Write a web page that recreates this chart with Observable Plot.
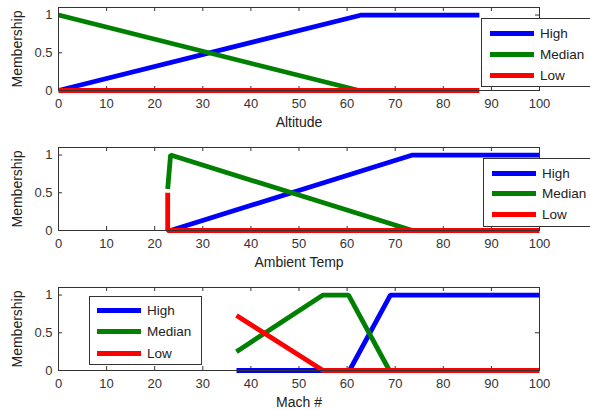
<!DOCTYPE html>
<html>
<head>
<meta charset="utf-8">
<script src="https://cdn.jsdelivr.net/npm/d3@7"></script>
<script src="https://cdn.jsdelivr.net/npm/@observablehq/plot@0.6"></script>
<style>
  html, body { margin: 0; padding: 0; background: #fff; }
  #wrap { position: relative; width: 590px; height: 410px; overflow: hidden; font-family: "Liberation Sans", Arial, sans-serif; }
  .panel { position: absolute; left: 0; }
  .legend { position: absolute; background: #fff; border: 1px solid #333; box-sizing: border-box; }
  .legend .row { position: absolute; height: 14px; display: flex; align-items: center; }
  .legend .sw { width: 44px; height: 5px; }
  .legend .lab { margin-left: 6px; font-size: 13.5px; color: #222; white-space: nowrap; }
</style>
</head>
<body>
<div id="wrap"></div>
<script>
// ---- data ----
const xTicks = [0, 10, 20, 30, 40, 50, 60, 70, 80, 90, 100];
const yTicks = [0, 0.5, 1];
const seriesNames = ["High", "Median", "Low"];
const seriesColors = ["#0000ff", "#008000", "#ff0000"];
const panelLabels = ["Altitude", "Ambient Temp", "Mach #"];
const yLabel = "Membership";

// Altitude
const altHighX = [0, 63, 87.5];        const altHighY = [0, 1, 1];
const altMedianX = [0, 62.5];          const altMedianY = [1, 0];
const altLowX = [0, 87.5];             const altLowY = [0, 0];
// Ambient Temp
const tempHighX = [23.3, 73.6, 100];   const tempHighY = [0, 1, 1];
const tempMedianX = [22.7, 23.3, 73.6];const tempMedianY = [0.55, 1, 0];
const tempLowX = [22.7, 22.7, 100];    const tempLowY = [0.5, 0, 0];
// Mach #
const machHighX = [37, 60.5, 69, 100]; const machHighY = [0, 0, 1, 1];
const machMedianX = [37, 55, 60.3, 68.8]; const machMedianY = [0.25, 1, 1, 0];
const machLowX = [37, 55, 100];        const machLowY = [0.73, 0, 0];

function rows(name, xs, ys) { return xs.map((x, i) => ({series: name, x, y: ys[i]})); }
const panelData = [
  [...rows("High", altHighX, altHighY), ...rows("Median", altMedianX, altMedianY), ...rows("Low", altLowX, altLowY)],
  [...rows("High", tempHighX, tempHighY), ...rows("Median", tempMedianX, tempMedianY), ...rows("Low", tempLowX, tempLowY)],
  [...rows("High", machHighX, machHighY), ...rows("Median", machMedianX, machMedianY), ...rows("Low", machLowX, machLowY)]
];

// ---- layout ----
const W = 590, H = 140, mT = 7, mB = 50, mL = 58, mR = 51;
const innerH = H - mT - mB, innerW = W - mL - mR;
const axisColor = "#333";
const tickLen = 4;
const legendPos = [
  {left: 481, top: 18, width: 130, height: 69, dx: 8, rows: [7, 28, 49]},
  {left: 483, top: 158, width: 130, height: 69, dx: 8, rows: [7, 27, 48]},
  {left: 89, top: 296, width: 113, height: 69, dx: 7, rows: [6, 27, 49]}
];

const wrap = document.getElementById("wrap");
panelData.forEach((data, i) => {
  const chart = Plot.plot({
    width: W, height: H,
    marginLeft: mL, marginRight: mR, marginTop: mT, marginBottom: mB,
    x: {domain: [0, 100]},
    y: {domain: [0, 1.1]},
    color: {domain: seriesNames, range: seriesColors},
    style: {fontFamily: "'Liberation Sans', Arial, sans-serif", fontSize: "13px", color: "#333", background: "transparent", overflow: "visible"},
    marks: [
      Plot.axisX(xTicks, {tickSize: 0, tickPadding: 8, label: null}),
      Plot.axisY(yTicks, {tickSize: 0, tickPadding: 6, label: null, tickFormat: d => String(d)}),
      Plot.tickX(xTicks, {x: d => d, insetTop: innerH - tickLen, stroke: axisColor}),
      Plot.tickX(xTicks, {x: d => d, insetBottom: innerH - tickLen, stroke: axisColor}),
      Plot.tickY(yTicks, {y: d => d, insetRight: innerW - tickLen, stroke: axisColor}),
      Plot.tickY(yTicks, {y: d => d, insetLeft: innerW - tickLen, stroke: axisColor}),
      Plot.line(data, {x: "x", y: "y", z: "series", stroke: "series", strokeWidth: 4.8, strokeLinejoin: "miter", strokeLinecap: "butt"}),
      Plot.frame({stroke: axisColor}),
      Plot.text([panelLabels[i]], {frameAnchor: "bottom", textAnchor: "middle", lineAnchor: "middle", dy: 32, fontSize: 14, fill: "#222"}),
      Plot.text([yLabel], {frameAnchor: "left", textAnchor: "middle", lineAnchor: "middle", rotate: -90, dx: -41, fontSize: 14, fill: "#222"})
    ]
  });
  chart.classList.add("panel");
  chart.style.top = (i * 140) + "px";
  wrap.appendChild(chart);

  const lp = legendPos[i];
  const lg = document.createElement("div");
  lg.className = "legend";
  Object.assign(lg.style, {left: lp.left + "px", top: lp.top + "px", width: lp.width + "px", height: lp.height + "px"});
  seriesNames.forEach((name, k) => {
    const r = document.createElement("div");
    r.className = "row";
    r.style.left = lp.dx + "px";
    r.style.top = lp.rows[k] + "px";
    const sw = document.createElement("div");
    sw.className = "sw";
    sw.style.background = seriesColors[k];
    const lab = document.createElement("span");
    lab.className = "lab";
    lab.textContent = name;
    r.appendChild(sw); r.appendChild(lab);
    lg.appendChild(r);
  });
  wrap.appendChild(lg);
});
</script>
</body>
</html>
